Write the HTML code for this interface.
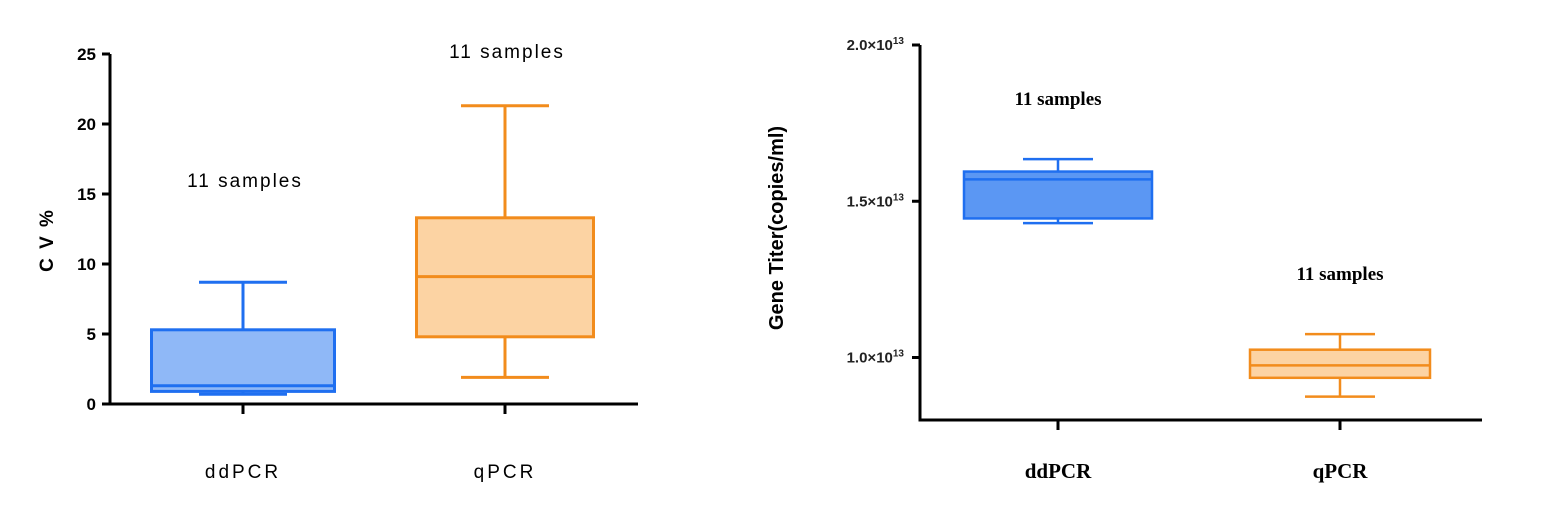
<!DOCTYPE html>
<html><head><meta charset="utf-8"><style>
body{margin:0;background:#fff;width:1568px;height:518px;overflow:hidden}
svg{display:block}
</style></head><body>
<svg id="c" width="1568" height="518" xmlns="http://www.w3.org/2000/svg"></svg>
<script>
const categories=["ddPCR","qPCR"];
const cvMin=[0.7,1.9];
const cvQ1=[0.9,4.8];
const cvMedian=[1.3,9.1];
const cvQ3=[5.3,13.3];
const cvMax=[8.7,21.3];
const cvTicks=[0,5,10,15,20,25];
const titerMin=[1.43,0.875];
const titerQ1=[1.445,0.935];
const titerMedian=[1.57,0.975];
const titerQ3=[1.595,1.025];
const titerMax=[1.635,1.075];
const titerTicks=[1.0,1.5,2.0];
const sampleLabels=["11 samples","11 samples"];

const NS="http://www.w3.org/2000/svg";
const svg=document.getElementById('c');
function mk(tag,attrs,parent){const e=document.createElementNS(NS,tag);for(const k in attrs)e.setAttribute(k,attrs[k]);(parent||svg).appendChild(e);return e;}

const colors=[{s:"#1f6ff0",f1:"#8fb8f7",f2:"#5b97f3"},{s:"#f28c1c",f:"#fcd3a3"}];

// Left chart
const L={x0:110,x1:638,yTop:54,yBot:404,vmin:0,vmax:25};
const ly=v=>L.yBot-(v-L.vmin)/(L.vmax-L.vmin)*(L.yBot-L.yTop);
const lx=i=>[243,505][i];
const gL=mk('g',{});


const ax1=mk('path',{d:`M${L.x0},${L.yTop} V${L.yBot} H${L.x1}`,stroke:"#000","stroke-width":3,fill:"none"},gL);


cvTicks.forEach(t=>{
  const y=ly(t);
  const tk=mk('line',{x1:L.x0-8,x2:L.x0,y1:y,y2:y,stroke:"#000","stroke-width":3},gL);
  
  
  const tx=mk('text',{x:L.x0-14,y:y+6,"text-anchor":"end","font-family":"Liberation Sans, sans-serif","font-weight":"bold","font-size":17},gL);
  tx.textContent=t;
  
  
});
const yt1=mk('text',{transform:"translate(53,240) rotate(-90)","text-anchor":"middle","font-family":"Liberation Sans, sans-serif","font-weight":"bold","font-size":19,"letter-spacing":"2"},gL);
yt1.textContent="C V %";


const boxW=[183,177];
categories.forEach((c,i)=>{
  const cx=lx(i),col=colors[i],w=boxW[i];
  const tk=mk('line',{x1:cx,x2:cx,y1:L.yBot,y2:L.yBot+10,stroke:"#000","stroke-width":3},gL);
  
  
  const wh=mk('path',{d:`M${cx},${ly(cvQ3[i])} V${ly(cvMax[i])} M${cx-44},${ly(cvMax[i])} H${cx+44} M${cx},${ly(cvQ1[i])} V${ly(cvMin[i])} M${cx-44},${ly(cvMin[i])} H${cx+44}`,stroke:col.s,"stroke-width":3,fill:"none"},gL);
  
  
  const bx=mk('rect',{x:cx-w/2,y:ly(cvQ3[i]),width:w,height:ly(cvQ1[i])-ly(cvQ3[i]),fill:col.f1||col.f,stroke:col.s,"stroke-width":3},gL);
  
  
  const md=mk('line',{x1:cx-w/2,x2:cx+w/2,y1:ly(cvMedian[i]),y2:ly(cvMedian[i]),stroke:col.s,"stroke-width":3},gL);
  
  
  const xl=mk('text',{x:cx,y:478,"text-anchor":"middle","font-family":"Liberation Sans, sans-serif","font-size":19,"letter-spacing":"3"},gL);
  xl.textContent=c;
  
  
  const sl=mk('text',{x:cx+2,y:ly(cvMax[i])-[95,48][i],"text-anchor":"middle","font-family":"Liberation Sans, sans-serif","font-size":19,"letter-spacing":"2"},gL);
  sl.textContent=sampleLabels[i];
  
  
});

// Right chart
const R={x0:920,x1:1482,yTop:45,yBot:420,vmin:0.8,vmax:2.0};
const ry=v=>R.yBot-(v-R.vmin)/(R.vmax-R.vmin)*(R.yBot-R.yTop);
const rx=i=>[1058,1340][i];
const gR=mk('g',{});


const ax2=mk('path',{d:`M${R.x0},${R.yTop} V${R.yBot} H${R.x1}`,stroke:"#000","stroke-width":3,fill:"none"},gR);


titerTicks.forEach(t=>{
  const y=ry(t);
  const tk=mk('line',{x1:R.x0-8,x2:R.x0,y1:y,y2:y,stroke:"#000","stroke-width":3},gR);
  
  
  const tx=mk('text',{x:R.x0-16,y:y+5,"text-anchor":"end","font-family":"Liberation Sans, sans-serif","font-weight":"bold","font-size":15,fill:"#222"},gR);
  tx.innerHTML=t.toFixed(1)+'\u00d710<tspan font-size="10" dy="-6">13</tspan>';
  
  
});
const yt2=mk('text',{transform:"translate(783,228) rotate(-90)","text-anchor":"middle","font-family":"Liberation Sans, sans-serif","font-weight":"bold","font-size":20},gR);
yt2.textContent="Gene Titer(copies/ml)";


const boxW2=[188,180];
categories.forEach((c,i)=>{
  const cx=rx(i),col=colors[i],w=boxW2[i];
  const tk=mk('line',{x1:cx,x2:cx,y1:R.yBot,y2:R.yBot+10,stroke:"#000","stroke-width":3},gR);
  
  
  const wh=mk('path',{d:`M${cx},${ry(titerQ3[i])} V${ry(titerMax[i])} M${cx-35},${ry(titerMax[i])} H${cx+35} M${cx},${ry(titerQ1[i])} V${ry(titerMin[i])} M${cx-35},${ry(titerMin[i])} H${cx+35}`,stroke:col.s,"stroke-width":2.5,fill:"none"},gR);
  
  
  const bx=mk('rect',{x:cx-w/2,y:ry(titerQ3[i]),width:w,height:ry(titerQ1[i])-ry(titerQ3[i]),fill:col.f2||col.f,stroke:col.s,"stroke-width":2.5},gR);
  
  
  const md=mk('line',{x1:cx-w/2,x2:cx+w/2,y1:ry(titerMedian[i]),y2:ry(titerMedian[i]),stroke:col.s,"stroke-width":2.5},gR);
  
  
  const xl=mk('text',{x:cx,y:478,"text-anchor":"middle","font-family":"Liberation Serif, serif","font-weight":"bold","font-size":21},gR);
  xl.textContent=c;
  
  
  const sl=mk('text',{x:cx,y:ry(titerMax[i])-54,"text-anchor":"middle","font-family":"Liberation Serif, serif","font-weight":"bold","font-size":19},gR);
  sl.textContent=sampleLabels[i];
  
  
});
</script>
</body></html>
